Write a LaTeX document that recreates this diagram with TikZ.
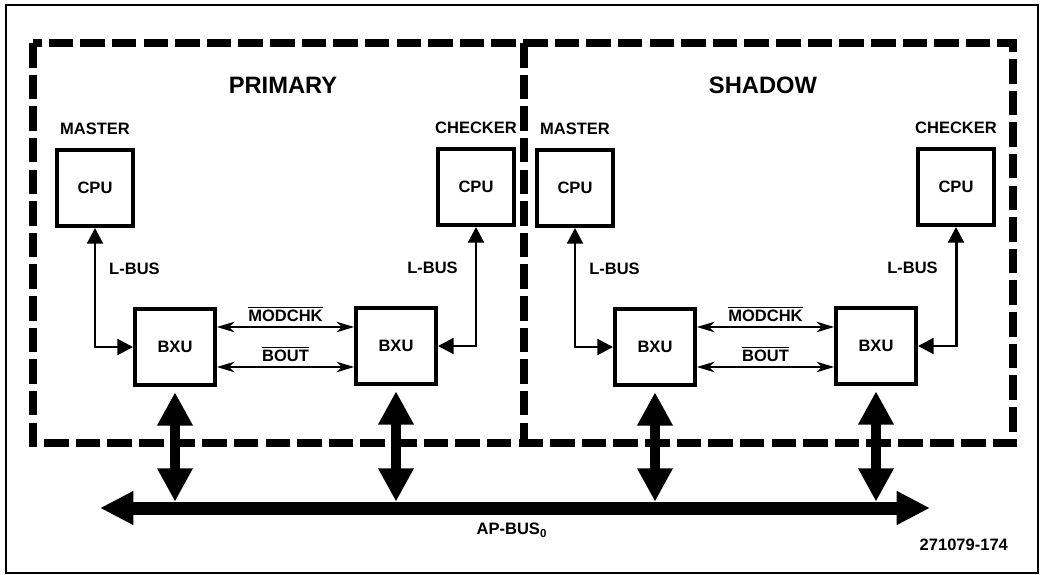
\documentclass[tikz,border=0pt]{standalone}
\usepackage{fontspec}
\setmainfont{Liberation Sans}
\usetikzlibrary{arrows.meta,positioning}

\newcommand\lblfont{\fontsize{9.4pt}{11pt}\selectfont\bfseries}
\newcommand\ttlfont{\fontsize{13.5pt}{16pt}\selectfont\bfseries}

\tikzset{
  unit/.style={draw, line width=2.2pt, minimum width=1.52cm, minimum height=1.52cm, font=\lblfont},
  tag/.style={font=\lblfont, inner sep=1pt},
  fence/.style={line width=4pt, dash pattern=on 14pt off 4pt},
  lbus/.style={line width=1.7pt, {Triangle[length=9pt,width=9pt]}-{Triangle[length=9pt,width=9pt]}},
  sig/.style={line width=0.6pt, {Stealth[length=10pt,width=6pt,inset=3pt]}-{Stealth[length=10pt,width=6pt,inset=3pt]}},
  fat/.style={line width=5.7pt, {Triangle[length=19pt,width=19pt]}-{Triangle[length=19pt,width=19pt]},
              shorten <=3pt, shorten >=3.6pt},
  apbus/.style={line width=7.4pt, {Triangle[length=19pt,width=18pt]}-{Triangle[length=19pt,width=18pt]}}
}

\begin{document}
\begin{tikzpicture}[x=0.02cm,y=-0.02cm]
\useasboundingbox (0,0) rectangle (1042,575);
% frame and the two dashed halves
\draw[line width=0.6pt] (6,5) rectangle (1038,573);
\draw[fence] (33,43) rectangle (1013,443);
\draw[fence] (524,43) -- (524,443);

% AP bus
\coordinate (busL) at (100,508);
\coordinate (busR) at (930,508);
\draw[apbus] (busL) -- (busR);
\node[tag] (apbus) at (512,530) {AP-BUS\textsubscript{0}};
\node[tag, anchor=east] (fig) at (1010,545) {271079-174};

\foreach \off/\pre/\ttl in {0/p/PRIMARY, 480/s/SHADOW}
{
  \node[font=\ttlfont] (\pre title) at (\off+283,85) {\ttl};
  \node[unit] (\pre cpuM) at (\off+95,188) {CPU};
  \node[unit] (\pre cpuC) at (\off+476,187) {CPU};
  \node[tag, above=0.22cm of \pre cpuM] (\pre mst) {MASTER};
  \node[tag, above=0.22cm of \pre cpuC] (\pre chk) {CHECKER};
  \node[unit, minimum width=1.6cm] (\pre bxuA) at (\off+175,347) {BXU};
  \node[unit, minimum width=1.6cm] (\pre bxuB) at (\off+396,346) {BXU};
  % local buses
  \draw[lbus] (\pre cpuM.south) |- (\pre bxuA.west)
    node[tag, pos=0.17, right=0.22cm] (\pre lbA) {L-BUS};
  \draw[lbus] (\pre cpuC.south) |- (\pre bxuB.east)
    node[tag, pos=0.17, left=0.3cm] (\pre lbB) {L-BUS};
  % check lines
  \draw[sig] ([yshift=0.4cm]\pre bxuA.east) -- ([yshift=0.4cm]\pre bxuA.east -| \pre bxuB.west)
    node[tag, midway, above=2pt] {\(\overline{\mbox{MODCHK}}\)};
  \draw[sig] ([yshift=-0.4cm]\pre bxuA.east) -- ([yshift=-0.4cm]\pre bxuA.east -| \pre bxuB.west)
    node[tag, midway, above=2pt] {\(\overline{\mbox{BOUT}}\)};
  % to AP bus
  \draw[fat] (\pre bxuA.south) -- (\pre bxuA.south |- busL);
  \draw[fat] (\pre bxuB.south) -- (\pre bxuB.south |- busL);
}
\end{tikzpicture}
\end{document}
